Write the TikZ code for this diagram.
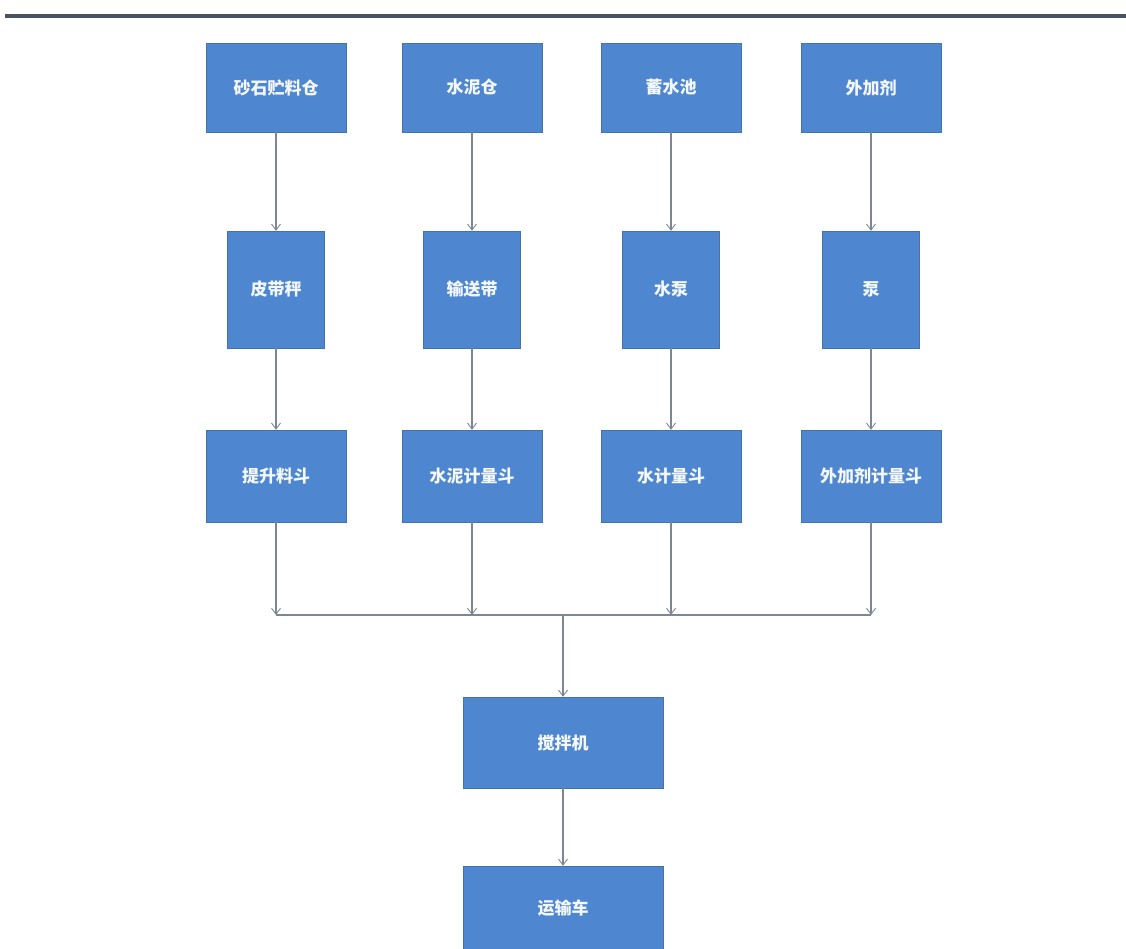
\documentclass[tikz,border=0pt]{standalone}
\usepackage{fontspec}
\newfontfamily\cjk{Noto Sans CJK SC}
\usetikzlibrary{arrows.meta}
\definecolor{boxblue}{RGB}{78,134,208}
\definecolor{linegray}{RGB}{125,135,148}
\definecolor{headline}{RGB}{72,82,98}
\tikzset{
  blk/.style={rectangle, fill=boxblue, draw=boxblue!85!black, line width=0.4pt, text=white!94!boxblue, font=\cjk\bfseries\fontsize{17}{19}\selectfont, inner sep=0pt},
  wide/.style={blk, minimum width=140pt},
  narrow/.style={blk, minimum width=97pt, minimum height=117pt},
  conn/.style={draw=linegray, line width=1.2pt, -{Straight Barb[length=6pt,width=9pt,line width=0.9pt]}},
  plain/.style={draw=linegray, line width=1.2pt}
}
\begin{document}
\begin{tikzpicture}[x=1pt,y=-1pt]
\useasboundingbox (0,0) rectangle (1126,949);
\fill[white] (0,0) rectangle (1126,949);
\draw[headline, line width=3.5pt] (5,16) -- (1126,16);
% row 1
\node[wide, minimum height=89pt] (a1) at (276,87.5) {砂石贮料仓};
\node[wide, minimum height=89pt] (b1) at (472,87.5) {水泥仓};
\node[wide, minimum height=89pt] (c1) at (671,87.5) {蓄水池};
\node[wide, minimum height=89pt] (d1) at (871,87.5) {外加剂};
% row 2
\node[narrow] (a2) at (276,289.5) {皮带秤};
\node[narrow] (b2) at (472,289.5) {输送带};
\node[narrow] (c2) at (671,289.5) {水泵};
\node[narrow] (d2) at (871,289.5) {泵};
% row 3
\node[wide, minimum height=92pt] (a3) at (276,476) {提升料斗};
\node[wide, minimum height=92pt] (b3) at (472,476) {水泥计量斗};
\node[wide, minimum height=92pt] (c3) at (671,476) {水计量斗};
\node[wide, minimum height=92pt] (d3) at (871,476) {外加剂计量斗};
% bottom
\node[blk, minimum width=200pt, minimum height=91pt] (m) at (563,742.5) {搅拌机};
\node[blk, minimum width=200pt, minimum height=84pt] (t) at (563,908) {运输车};
% bus coordinates
\coordinate (pa) at (276,615);
\coordinate (pb) at (472,615);
\coordinate (pc) at (671,615);
\coordinate (pd) at (871,615);
\coordinate (pm) at (563,615);
% connectors
\foreach \c in {a,b,c,d}{
  \draw[conn] (\c1.south) -- (\c2.north);
  \draw[conn] (\c2.south) -- (\c3.north);
  \draw[conn] (\c3.south) -- (p\c);
}
\draw[plain] (pa) -- (pd);
\draw[conn] (pm) -- (m.north);
\draw[conn] (m.south) -- (t.north);
\end{tikzpicture}
\end{document}
